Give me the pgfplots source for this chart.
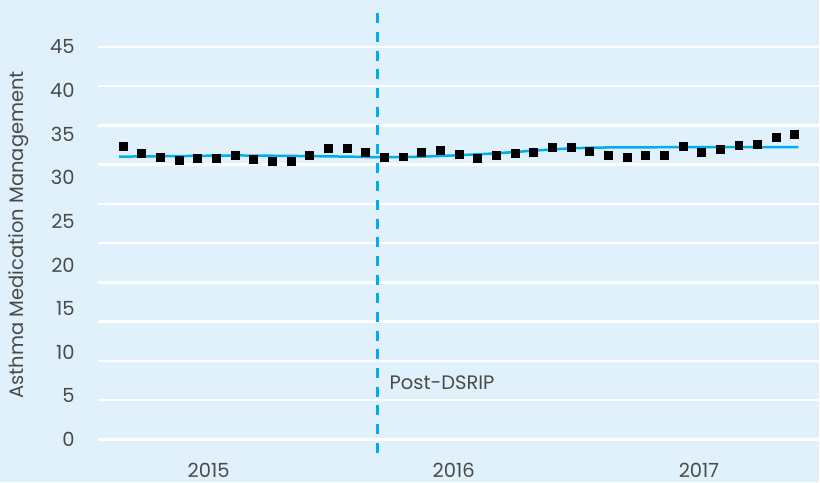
\documentclass[border=0pt]{standalone}
\usepackage{pgfplots}
\pgfplotsset{compat=1.18}
\usepackage{fontspec}
\setmainfont{Poppins}
\definecolor{bgcol}{RGB}{224,241,251}
\definecolor{linecol}{RGB}{0,174,239}
\definecolor{txtcol}{RGB}{74,74,74}

\begin{document}
\begin{tikzpicture}
  % full background, axis area starts 97.7pt from the left edge
  \fill[bgcol] (-97.7pt,0) rectangle (722.3pt,483pt);
  \begin{axis}[
      scale only axis,
      width=722.3pt, height=483pt,
      at={(0,0)}, anchor=south west,
      xmin=-1.354, xmax=37.29,
      ymin=-4.924, ymax=50.38,
      axis line style={draw=none},
      tick style={draw=none},
      font=\fontsize{19.5}{22}\selectfont,
      every tick label/.append style={text=txtcol},
      /pgf/number format/assume math mode=true,
      ytick={0,5,...,45},
      yticklabel style={inner sep=0pt, anchor=east, xshift=-22.7pt},
      extra y ticks={0,4.5,9,13.5,18,22.5,27,31.5,36,40.5,45},
      extra y tick labels={},
      extra y tick style={grid=major, major grid style={white, line width=2.5pt}},
      xtick={4.6,17.73,30.87},
      xticklabels={2015,2016,2017},
      xticklabel style={inner sep=0pt, text depth=0pt, anchor=north, yshift=19.5pt},
      clip=false,
    ]
    % trend line
    \addplot[linecol, line width=2.5pt, smooth, no marks] coordinates {
      (-0.2,32.42) (3,32.48) (6,32.55) (9,32.5) (12,32.42) (14,32.35)
      (16,32.42) (18,32.58) (20,32.8) (22,33.1) (24,33.36) (26,33.47)
      (30,33.5) (36.2,33.52)
    };
    % monthly rates
    \addplot[only marks, mark=square*, mark size=4pt, black] coordinates {
      (0,33.58) (1,32.86) (2,32.37) (3,32.06) (4,32.29) (5,32.21)
      (6,32.60) (7,32.10) (8,31.95) (9,31.95) (10,32.60) (11,33.36)
      (12,33.36) (13,32.94) (14,32.37) (15,32.41) (16,32.94) (17,33.13)
      (18,32.71) (19,32.29) (20,32.60) (21,32.78) (22,32.94) (23,33.55)
      (24,33.55) (25,33.09) (26,32.60) (27,32.33) (28,32.63) (29,32.55)
      (30,33.66) (31,32.98) (32,33.32) (33,33.78) (34,33.86) (35,34.62)
      (36,35.04)
    };
    % programme start
    \draw[linecol, line width=3pt, dash pattern=on 10pt off 8.7pt]
      (axis cs:13.63,48.86) -- (axis cs:13.63,-1.72);
    \node[anchor=west, inner sep=0pt, text=txtcol] at (axis cs:14.29,6.5) {Post-DSRIP};
    \node[rotate=90, inner sep=0pt, text=txtcol]
      at ([xshift=-78.5pt]rel axis cs:0,0.5134) {Asthma Medication Management};
  \end{axis}
\end{tikzpicture}
\end{document}
